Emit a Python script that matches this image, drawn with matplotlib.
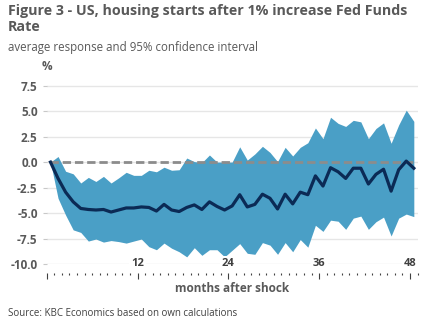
import numpy as np
import matplotlib.pyplot as plt

# months after shock 0..48
months = list(range(49))

mean_resp = [0, -1.6, -2.95, -3.9, -4.55, -4.65, -4.7, -4.65, -4.9, -4.7,
             -4.5, -4.5, -4.4, -4.45, -4.8, -4.15, -4.7, -4.85, -4.45, -4.2,
             -4.65, -3.9, -4.35, -4.7, -4.3, -3.2, -4.4, -4.15, -3.15, -3.55,
             -4.6, -3.15, -4.1, -2.95, -3.2, -1.35, -2.35, -0.55, -0.95, -1.6,
             -0.6, -0.6, -2.15, -1.2, -0.7, -2.85, -0.75, 0.1, -0.6]

upper_ci = [0, 0.55, -0.9, -1.15, -2.05, -1.5, -1.9, -1.4, -2.05, -1.55,
            -1.0, -1.3, -1.3, -0.8, -0.95, -0.5, -0.8, -0.75, 0.4, 0.05,
            -0.05, 0.7, 0.0, 0.0, 0.0, 1.5, 0.2, 0.8, 1.55, 0.95,
            0.05, 1.45, 0.6, 1.45, 1.9, 3.35, 2.3, 4.4, 3.8, 3.5,
            4.1, 3.95, 2.3, 3.3, 3.85, 1.85, 3.65, 5.1, 4.0]

lower_ci = [0, -3.55, -5.2, -6.65, -6.9, -7.75, -7.55, -7.85, -7.7, -7.8,
            -7.95, -7.75, -7.55, -8.3, -8.6, -7.95, -8.45, -8.8, -9.3, -8.4,
            -9.15, -8.6, -8.6, -9.3, -8.65, -8.0, -8.95, -9.05, -7.9, -8.15,
            -9.05, -7.9, -8.8, -7.6, -8.35, -6.2, -6.8, -5.7, -5.8, -6.6,
            -5.5, -5.3, -6.6, -5.85, -5.4, -7.25, -5.5, -5.1, -5.35]

yticks = [-10, -7.5, -5, -2.5, 0, 2.5, 5, 7.5]
xlabels = [12, 24, 36, 48]

plt.rcParams['font.family'] = ['Open Sans', 'DejaVu Sans']
grey = '#595959'

W, H = 432, 332
fig = plt.figure(figsize=(W / 100, H / 100), dpi=100)
ax = fig.add_axes([46.7 / W, (H - 264) / H, (417.6 - 46.7) / W, (264 - 75.5) / H])

# categories sit between the tick marks
x = np.array(months) + 0.5
ax.fill_between(x, lower_ci, upper_ci, color='#4a9fc6', lw=0, zorder=2)
ax.hlines(0, x[0], x[-1], colors='#8c8c8c', linestyles=(0, (3, 1.4)), lw=2, zorder=3)
ax.plot(x, mean_resp, color='#0b2a55', lw=2.3, zorder=4)

ax.set_xlim(0, 49)
ax.set_ylim(-10, 8.5)

ax.set_yticks(yticks)
ax.set_yticklabels(['%.1f' % v for v in yticks])
ax.tick_params(axis='y', length=3, color='#c8c8c8', pad=3.5,
               labelsize=8.5, labelcolor=grey)
for t in ax.get_yticklabels():
    t.set_fontweight('bold')
ax.grid(axis='y', color='#e6e6e6', lw=1, zorder=0)
ax.set_axisbelow(True)

ax.set_xticks([0, 12, 24, 36, 48])
ax.set_xticks(range(50), minor=True)
ax.tick_params(axis='x', which='major', length=4.5, width=0.8, color='#404040',
               labelbottom=False)
ax.tick_params(axis='x', which='minor', length=1.5, width=0.8, color='#404040')
ax.spines['bottom'].set_position(('outward', 6.5))
ax.spines['bottom'].set_color('none')
for s in ['left', 'top', 'right']:
    ax.spines[s].set_visible(False)

for m in xlabels:
    ax.text(m, -10, str(m), ha='center', va='center', fontsize=8,
            fontweight='bold', color='#404040', zorder=5,
            bbox=dict(facecolor='white', edgecolor='none', pad=1.5))

fig.text(8 / W, 1 - 4 / H, 'Figure 3 - US, housing starts after 1% increase Fed Funds\nRate',
         ha='left', va='top', fontsize=10.3, fontweight='bold', color=grey,
         linespacing=1.18)
fig.text(8 / W, 1 - 48 / H, 'average response and 95% confidence interval',
         ha='left', va='center', fontsize=8.3, color=grey)
fig.text(47 / W, 1 - 67 / H, '%', ha='center', va='center', fontsize=8.5,
         fontweight='bold', color=grey)
fig.text(232 / W, 1 - 288 / H, 'months after shock', ha='center', va='center',
         fontsize=8.5, fontweight='bold', color=grey)
fig.text(8 / W, 1 - 314 / H, 'Source: KBC Economics based on own calculations',
         ha='left', va='center', fontsize=7.05, color='#404040')

fig.savefig('out.png', dpi=100)
